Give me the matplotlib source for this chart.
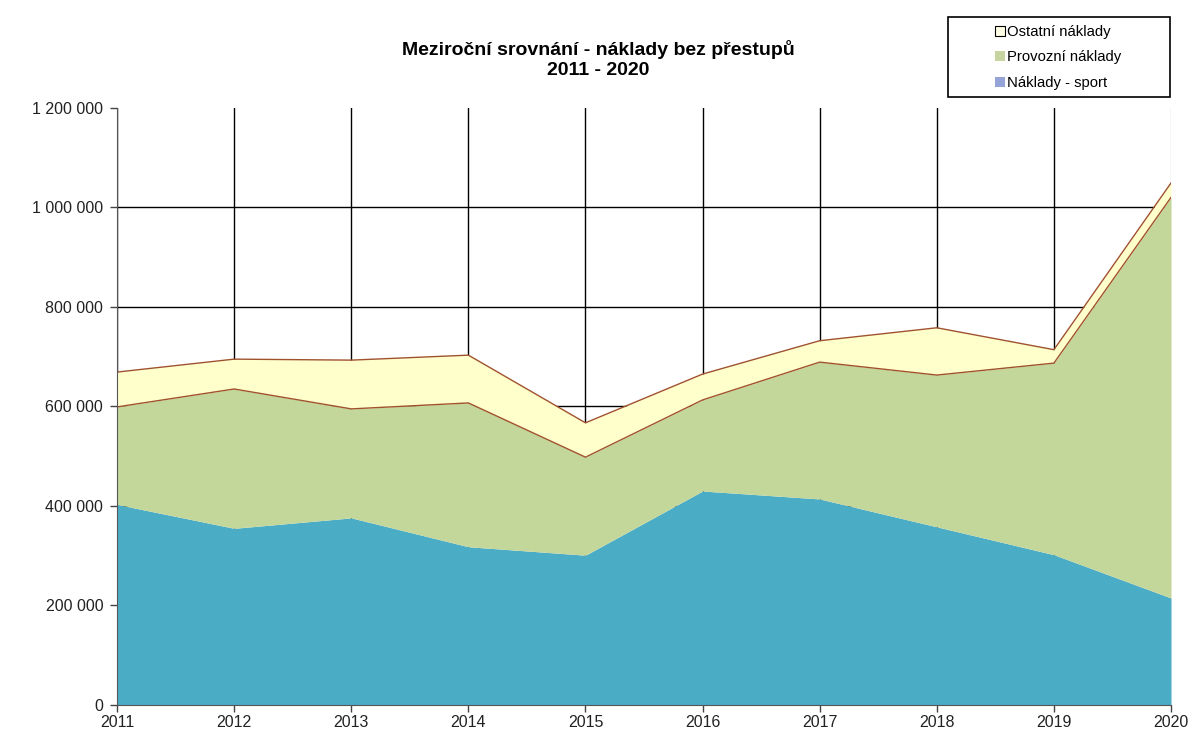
import numpy as np
import matplotlib
matplotlib.use("Agg")
import matplotlib.pyplot as plt
from matplotlib.patches import Patch, Rectangle
from matplotlib.ticker import FuncFormatter

plt.rcParams['font.family'] = ['Liberation Sans', 'DejaVu Sans']

# data
roky = [2011, 2012, 2013, 2014, 2015, 2016, 2017, 2018, 2019, 2020]
sport = [403000, 355000, 376000, 318000, 301000, 430000, 414000, 358000, 302000, 215000]
provozni = [196000, 280000, 219000, 289000, 197000, 183000, 275000, 305000, 385000, 805000]
ostatni = [70000, 60000, 98000, 96000, 69000, 52000, 43000, 95000, 27000, 29000]
yticks = [0, 200000, 400000, 600000, 800000, 1000000, 1200000]

c_sport = "#4bacc6"
c_prov = "#c4d79b"
c_ost = "#ffffcc"
c_line = "#a0522d"

x = np.array(roky)
s1 = np.array(sport)
s2 = s1 + np.array(provozni)
s3 = s2 + np.array(ostatni)

fig = plt.figure(figsize=(11.92, 7.54), dpi=100)
ax = fig.add_axes([0.0982, 0.065, 0.8842, 0.792])

ax.fill_between(x, 0, s1, color=c_sport, lw=0, zorder=3)
ax.fill_between(x, s1, s2, color=c_prov, lw=0, zorder=3)
ax.fill_between(x, s2, s3, color=c_ost, lw=0, zorder=3)
ax.plot(x, s2, color=c_line, lw=1, zorder=4)
ax.plot(x, s3, color=c_line, lw=1, zorder=4)

ax.set_xlim(2011, 2020)
ax.set_ylim(0, 1200000)
ax.set_xticks(roky)
ax.set_yticks(yticks)
ax.yaxis.set_major_formatter(FuncFormatter(lambda v, p: "{:,.0f}".format(v).replace(",", " ")))
ax.grid(True, color="black", lw=1, zorder=1)
ax.set_axisbelow(True)
ax.get_ygridlines()[-1].set_visible(False)
ax.get_xgridlines()[-1].set_color("#cccccc")
ax.tick_params(labelsize=11.5, length=5, width=1, colors="#444444", labelcolor="#222222")
ax.tick_params(axis="y", pad=5)
ax.tick_params(axis="x", pad=2)
for side in ["top", "right"]:
    ax.spines[side].set_visible(False)
for side in ["left", "bottom"]:
    ax.spines[side].set_color("#555555")
    ax.spines[side].set_zorder(5)

fig.text(0.502, 0.921, "Meziroční srovnání - náklady bez přestupů\n2011 - 2020",
         ha="center", va="center", fontsize=14, fontweight="bold", linespacing=1.25)

# legend frame + entries
fig.patches.append(Rectangle((0.7953, 0.8714), 0.1862, 0.1061, transform=fig.transFigure,
                             facecolor="white", edgecolor="black", lw=1.2))
handles = [Patch(facecolor="#ffffe6", edgecolor="black", lw=0.8),
           Patch(facecolor="#c8d4a0", edgecolor="none"),
           Patch(facecolor="#95a3d6", edgecolor="none")]
labels = ["Ostatní náklady", "Provozní náklady", "Náklady - sport"]
leg = fig.legend(handles, labels, loc="upper left", bbox_to_anchor=(0.8347, 0.967),
                 frameon=False, fontsize=10.7, handlelength=0.67,
                 handleheight=0.67, handletextpad=0.15, borderpad=0,
                 labelspacing=0.78, borderaxespad=0)

fig.savefig("out.png", dpi=100)
